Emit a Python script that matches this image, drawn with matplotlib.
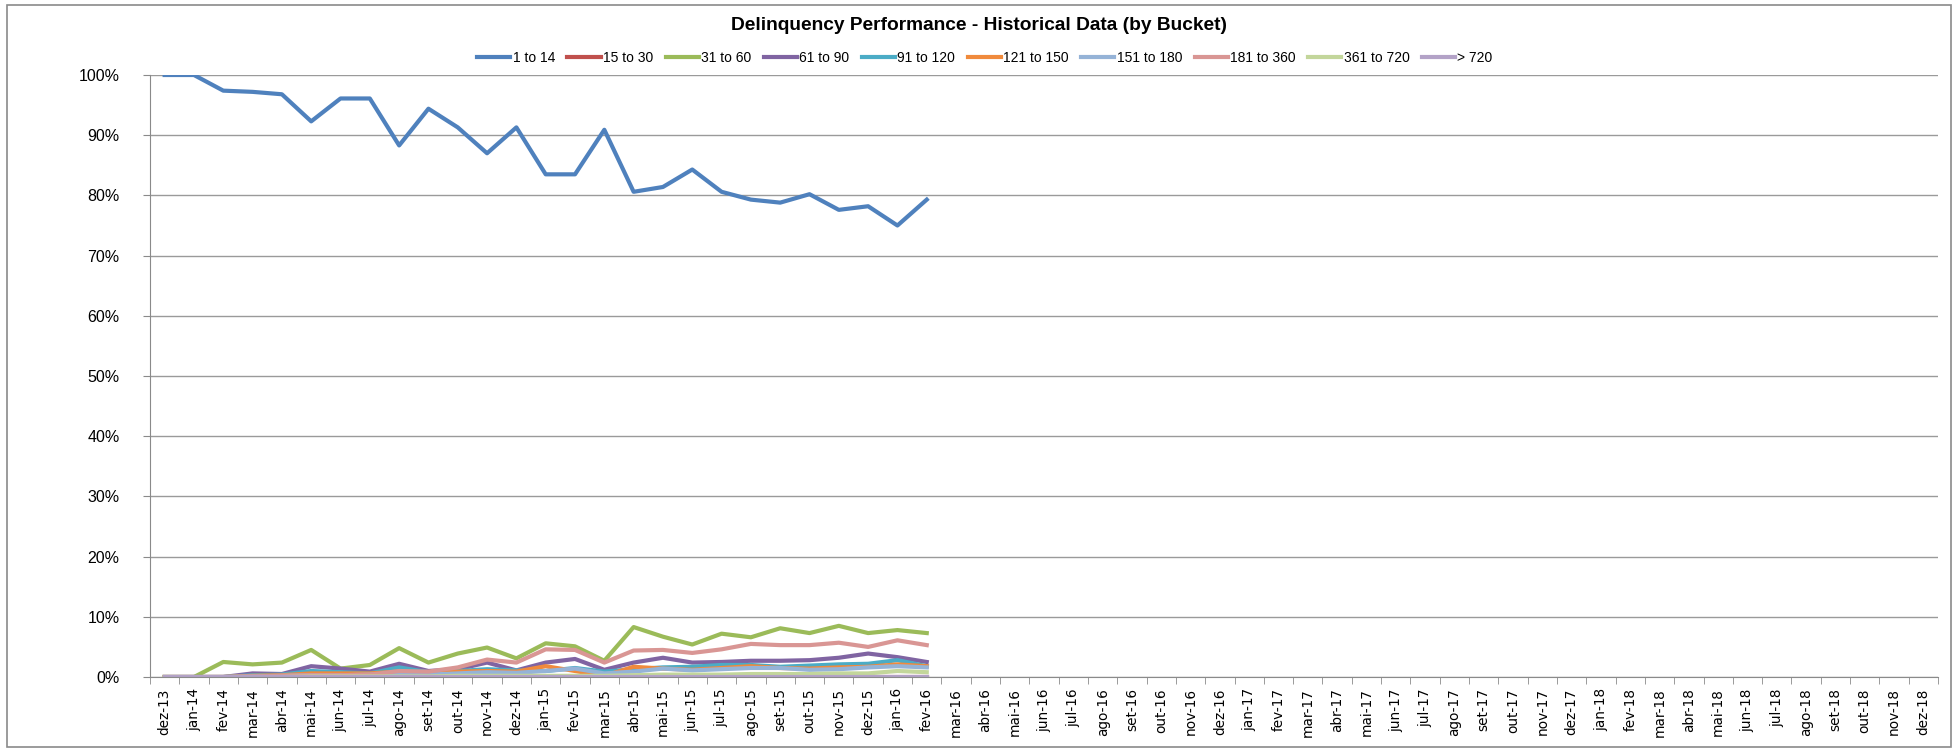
"""Delinquency performance by bucket, monthly share of portfolio (dez-13 .. dez-18)."""
import matplotlib
matplotlib.use("Agg")
import matplotlib.pyplot as plt
from matplotlib.patches import Rectangle
from matplotlib.ticker import FixedLocator, PercentFormatter

# month axis labels (pt-BR abbreviations), dez-13 .. dez-18
pt_months = ["jan", "fev", "mar", "abr", "mai", "jun",
             "jul", "ago", "set", "out", "nov", "dez"]
months = ["dez-13"] + [f"{m}-{y}" for y in (14, 15, 16, 17, 18) for m in pt_months]

buckets = ["1 to 14", "15 to 30", "31 to 60", "61 to 90", "91 to 120",
           "121 to 150", "151 to 180", "181 to 360", "361 to 720", "> 720"]
colors = ["#4F81BD", "#C0504D", "#9BBB59", "#8064A2", "#4BACC6",
          "#F08A3C", "#95B3D7", "#D99694", "#C3D69B", "#B3A2C7"]

# % of portfolio, dez-13 .. fev-16 (27 months observed)
b_1_14 = [100.0, 100.0, 97.4, 97.2, 96.8, 92.3, 96.1, 96.1, 88.3, 94.4, 91.3, 87.0, 91.3,
          83.5, 83.5, 90.9, 80.6, 81.4, 84.3, 80.6, 79.3, 78.8, 80.2, 77.6, 78.2, 75.0, 79.3]
b_15_30 = [0.0] * 27
b_31_60 = [0.0, 0.0, 2.5, 2.1, 2.4, 4.5, 1.4, 2.0, 4.8, 2.4, 3.9, 4.9, 3.1,
           5.6, 5.1, 2.7, 8.3, 6.7, 5.4, 7.2, 6.6, 8.1, 7.3, 8.5, 7.3, 7.8, 7.3]
b_61_90 = [0.0, 0.0, 0.0, 0.6, 0.5, 1.8, 1.4, 0.9, 2.2, 1.0, 1.3, 2.4, 1.1,
           2.4, 3.0, 1.2, 2.4, 3.2, 2.4, 2.5, 2.7, 2.7, 2.8, 3.2, 3.9, 3.3, 2.5]
b_91_120 = [0.0, 0.0, 0.0, 0.3, 0.4, 1.0, 0.8, 0.6, 1.6, 0.8, 1.0, 1.3, 1.1,
            1.0, 1.5, 0.9, 1.3, 1.6, 1.7, 2.0, 2.0, 1.7, 1.9, 2.1, 2.2, 2.8, 1.8]
b_121_150 = [0.0, 0.0, 0.0, 0.2, 0.3, 0.6, 0.6, 0.6, 0.9, 0.7, 0.9, 1.0, 0.9,
             1.8, 1.0, 0.2, 1.7, 1.4, 1.2, 1.5, 1.8, 1.5, 1.4, 1.6, 1.7, 2.1, 1.8]
b_151_180 = [0.0, 0.0, 0.0, 0.1, 0.2, 0.3, 0.3, 0.4, 0.6, 0.4, 0.6, 0.8, 0.7,
             1.0, 1.4, 0.6, 0.9, 1.4, 1.1, 1.3, 1.5, 1.5, 1.2, 1.3, 1.6, 1.8, 1.6]
b_181_360 = [0.0, 0.0, 0.0, 0.1, 0.2, 0.3, 0.3, 0.4, 1.0, 0.9, 1.6, 2.9, 2.4,
             4.6, 4.5, 2.4, 4.4, 4.5, 4.0, 4.6, 5.5, 5.3, 5.3, 5.7, 5.0, 6.1, 5.3]
b_361_720 = [0.0, 0.0, 0.0, 0.0, 0.0, 0.1, 0.1, 0.1, 0.1, 0.1, 0.2, 0.2, 0.2,
             0.2, 0.2, 0.2, 0.3, 0.4, 0.4, 0.4, 0.5, 0.5, 0.5, 0.6, 0.6, 1.0, 0.8]
b_over_720 = [0.0] * 27

series = [b_1_14, b_15_30, b_31_60, b_61_90, b_91_120,
          b_121_150, b_151_180, b_181_360, b_361_720, b_over_720]

plt.rcParams["font.family"] = ["Liberation Sans", "DejaVu Sans"]

fig = plt.figure(figsize=(19.58, 7.5), dpi=100)
ax = fig.add_axes([0.0766, 0.0973, 0.9132, 0.8027])

x = list(range(len(months)))
for name, vals, c in zip(buckets, series, colors):
    ax.plot(x[:len(vals)], vals, color=c, lw=3.0, label=name, solid_joinstyle="round")

ax.set_xlim(-0.5, len(months) - 0.5)
ax.set_ylim(0, 100)
ax.yaxis.set_major_locator(FixedLocator(range(0, 101, 10)))
ax.yaxis.set_major_formatter(PercentFormatter(decimals=0))
ax.grid(axis="y", color="#9a9a9a", lw=1.0)
ax.set_axisbelow(True)

ax.set_xticks(x)
ax.set_xticklabels(months, rotation=90, fontsize=9.8, family="DejaVu Sans")
ax.set_xticks([i - 0.5 for i in range(len(months) + 1)], minor=True)
ax.tick_params(axis="x", which="major", length=0, pad=8)
ax.tick_params(axis="x", which="minor", length=5, color="#8a8a8a")
ax.tick_params(axis="y", length=5, color="#8a8a8a", labelsize=11.5, pad=17)

for side in ("top", "right"):
    ax.spines[side].set_visible(False)
for side in ("left", "bottom"):
    ax.spines[side].set_color("#8a8a8a")

fig.text(0.5, 0.966, "Delinquency Performance - Historical Data (by Bucket)",
         ha="center", va="center", fontsize=13.8, fontweight="bold")
fig.legend(loc="center", bbox_to_anchor=(0.503, 0.923), ncol=10, frameon=False,
           fontsize=10, handlelength=2.4, handletextpad=0.15, columnspacing=0.9)

# chart-area frame
fig.patches.append(Rectangle((0.0036, 0.004), 0.9928, 0.989, transform=fig.transFigure,
                             fill=False, edgecolor="#8a8a8a", lw=1.2))

fig.savefig("out.png", dpi=100)
